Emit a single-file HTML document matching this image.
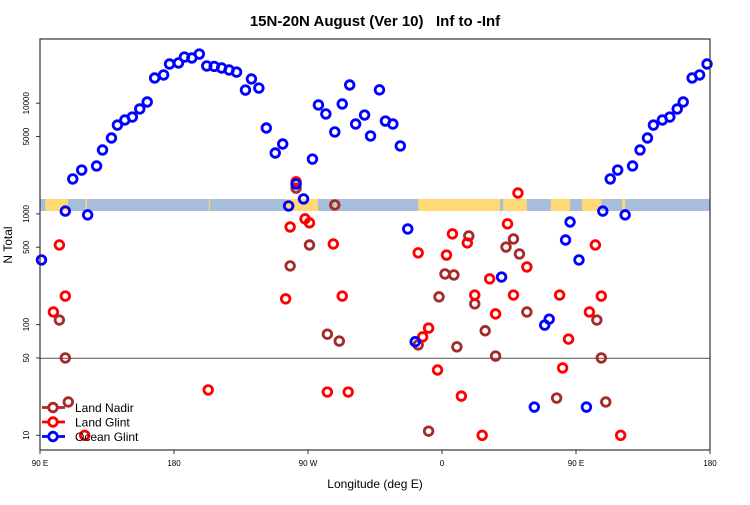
<!DOCTYPE html>
<html><head><meta charset="utf-8"><style>
body{margin:0;background:#fff}
svg{font-family:"Liberation Sans",sans-serif}
</style></head><body>
<svg id="c" width="750" height="500" xmlns="http://www.w3.org/2000/svg">
<text x="375" y="26" text-anchor="middle" font-size="15" font-weight="bold" style="white-space:pre">15N-20N August (Ver 10)   Inf to -Inf</text>
<text x="375" y="488" text-anchor="middle" font-size="12">Longitude (deg E)</text>
<text transform="translate(12,245) rotate(-90)" text-anchor="middle" font-size="12">N Total</text>
<g id="strip"></g>
<line x1="40" x2="710" y1="358.3" y2="358.3" stroke="#666" stroke-width="1.2"/>
<g id="pts"></g>
<rect x="40" y="39" width="670" height="411" fill="none" stroke="#333" stroke-width="1.2"/>
<g id="xt"></g>
<g id="yt"></g>
<g id="lg"></g>
</svg>
<script>
const xTickVals=[90,180,270,360,450,540];
const xTickLabels=["90 E","180","90 W","0","90 E","180"];
const yTickVals=[10,50,100,500,1000,5000,10000];
const yTickLabels=["10","50","100","500","1000","5000","10000"];
const oceanLon=[91,107,112,118,122,128,132,138,142,147,152,157,162,167,173,177,183,187,192,197,202,207,212,217,222,228,232,237,242,248,253,257,262,267,273,277,282,288,293,298,302,308,312,318,322,327,332,337,342,400,429,432,422,443,446,452,457,468,473,478,483,488,493,498,502,508,513,518,522,528,533,538];
const oceanN=[384,1060,2070,2490,980,2710,3780,4850,6350,7050,7500,8870,10260,16900,18000,22600,23100,26100,25600,27800,21700,21500,20800,19950,19100,13150,16550,13700,5970,3550,4280,1180,1860,1365,3130,9640,8000,5500,9840,14600,6490,7820,5060,13200,6900,6490,4110,731,70,269,99,112,18,581,845,384,18,1060,2070,2490,980,2710,3780,4850,6350,7050,7500,8870,10260,16900,18000,22600];
const glintLon=[103,107,99,120,203,255,258,262,268,271,287,293,283,297,344,347,351,357,363,367,373,377,382,387,392,396,404,408,411,417,439,441,445,459,463,467,480];
const glintN=[524,181,130,10,25.7,171,762,1950,902,830,535,181,24.6,24.6,445,77.5,93,38.9,425,660,22.6,547,185,10,259,125,813,185,1545,332,185,40.6,74,130,524,181,10];
const nadirLon=[103,107,109,258,262,271,283,288,291,344,351,358,362,368,370,378,382,389,396,403,408,412,417,437,464,467,470];
const nadirN=[110,50,20,339,1710,524,82,1205,71,65.6,10.9,178,287,281,63,632,154,88,52,502,594,435,130,21.7,110,50,20];
const landStart=[93.5,120.5,203.3,255,288,344,401,433,454,481];
const landEnd=[108.8,121.5,204,276.7,289,399,417,446,467,483];

const X=L=>40+(L-90)*670/450;
const Y=v=>435.3-(Math.log10(v)-1)*110.7;
const NS="http://www.w3.org/2000/svg";
function mk(t,p,parent){const e=document.createElementNS(NS,t);for(const k in p)e.setAttribute(k,p[k]);parent.appendChild(e);return e;}

const strip=document.getElementById('strip');
let r=mk('rect',{x:40,y:199,width:670,height:12,fill:'#a6bddb'},strip);


landStart.forEach((s,i)=>{
 const e=mk('rect',{x:X(s),y:199,width:X(landEnd[i])-X(s),height:12,fill:'#fed976'},strip);
 
 
});

const pts=document.getElementById('pts');
function series(lon,n,col,name){
 lon.forEach((L,i)=>{
  const c=mk('circle',{cx:X(L),cy:Y(n[i]),r:4.3,fill:'none',stroke:col,'stroke-width':2.8},pts);
  
  
 });
}
series(nadirLon,nadirN,'#a52a2a','land-nadir-point');
series(glintLon,glintN,'#ff0000','land-glint-point');
series(oceanLon,oceanN,'#0000ff','ocean-glint-point');

const xt=document.getElementById('xt');
xTickVals.forEach((v,i)=>{
 const l=mk('line',{x1:X(v),x2:X(v),y1:450,y2:454,stroke:'#333'},xt);
 
 
 const t=mk('text',{x:X(v),y:466,'text-anchor':'middle','font-size':8},xt);
 t.textContent=xTickLabels[i];
 
 
});
const yt=document.getElementById('yt');
yTickVals.forEach((v,i)=>{
 const y=Y(v);
 const l=mk('line',{x1:36,x2:40,y1:y,y2:y,stroke:'#333'},yt);
 
 
 const t=mk('text',{transform:`translate(29,${y}) rotate(-90)`,'text-anchor':'middle','font-size':8},yt);
 t.textContent=yTickLabels[i];
 
 
});

const lg=document.getElementById('lg');
const legNames=["Land Nadir","Land Glint","Ocean Glint"];
const legCols=["#a52a2a","#ff0000","#0000ff"];
legNames.forEach((nm,i)=>{
 const y=407.5+i*14.5;
 const g=mk('g',{},lg);
 
 
 mk('line',{x1:42,x2:65,y1:y,y2:y,stroke:legCols[i],'stroke-width':2.8},g);
 mk('circle',{cx:53,cy:y,r:4.3,fill:'#fff',stroke:legCols[i],'stroke-width':2.8},g);
 const t=mk('text',{x:75,y:y+4.5,'font-size':12},g);
 t.textContent=nm;
});
</script>
</body></html>
